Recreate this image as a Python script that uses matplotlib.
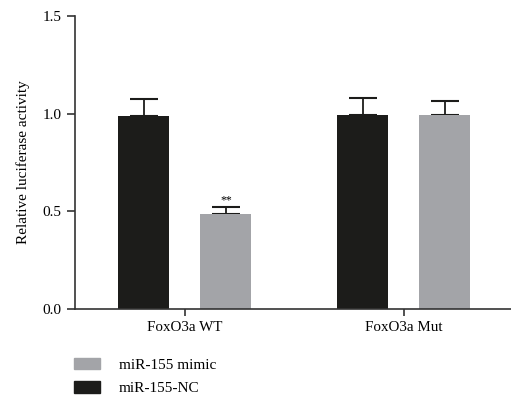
import numpy as np
import matplotlib.pyplot as plt
from matplotlib.patches import Patch

plt.rcParams['font.family'] = ['Liberation Serif', 'DejaVu Serif']

# data
groups = ['FoxO3a WT', 'FoxO3a Mut']
nc_mean = [0.99, 0.995]
nc_err = [0.085, 0.088]
mimic_mean = [0.486, 0.995]
mimic_err = [0.036, 0.068]

black = '#1c1c1a'
grey = '#a3a4a8'

fig = plt.figure(figsize=(5.11, 4.04), dpi=100)
ax = fig.add_axes([0.1468, 0.235, 0.8532, 0.725])

x = np.arange(len(groups))
w = 0.233
off = 0.187
ax.bar(x - off, nc_mean, w, color=black, zorder=2)
ax.bar(x + off, mimic_mean, w, color=grey, zorder=2)
ax.errorbar(x - off, nc_mean, yerr=[np.zeros(2), nc_err], fmt='none',
            ecolor=black, elinewidth=1.3, capsize=10, capthick=1.5, zorder=1)
ax.errorbar(x + off, mimic_mean, yerr=[np.zeros(2), mimic_err], fmt='none',
            ecolor=black, elinewidth=1.3, capsize=10, capthick=1.5, zorder=1)

ax.text(x[0] + off, mimic_mean[0] + mimic_err[0] + 0.005, '**',
        ha='center', va='bottom', fontsize=8.5)

ax.set_xlim(-0.502, 1.49)
ax.set_ylim(0, 1.5)
ax.set_yticks([0, 0.5, 1.0, 1.5])
ax.set_yticklabels(['0.0', '0.5', '1.0', '1.5'])
ax.set_xticks(x)
ax.set_xticklabels(groups)
ax.tick_params(axis='y', labelsize=11, width=1.2, length=6, color='#333333')
ax.tick_params(axis='x', labelsize=10.8, width=1.2, length=5, color='#333333')
for s in ['top', 'right']:
    ax.spines[s].set_visible(False)
for s in ['left', 'bottom']:
    ax.spines[s].set_linewidth(1.2)
    ax.spines[s].set_color('#333333')
ax.set_ylabel('Relative luciferase activity', fontsize=11, labelpad=9)

handles = [Patch(color=grey, label='miR-155 mimic'),
           Patch(color=black, label='miR-155-NC')]
fig.legend(handles=handles, loc='upper left', bbox_to_anchor=(0.132, 0.13),
           frameon=False, fontsize=11, handlelength=1.75, handleheight=0.75,
           labelspacing=0.65, handletextpad=1.2, borderaxespad=0)

fig.savefig('out.png', dpi=100)
